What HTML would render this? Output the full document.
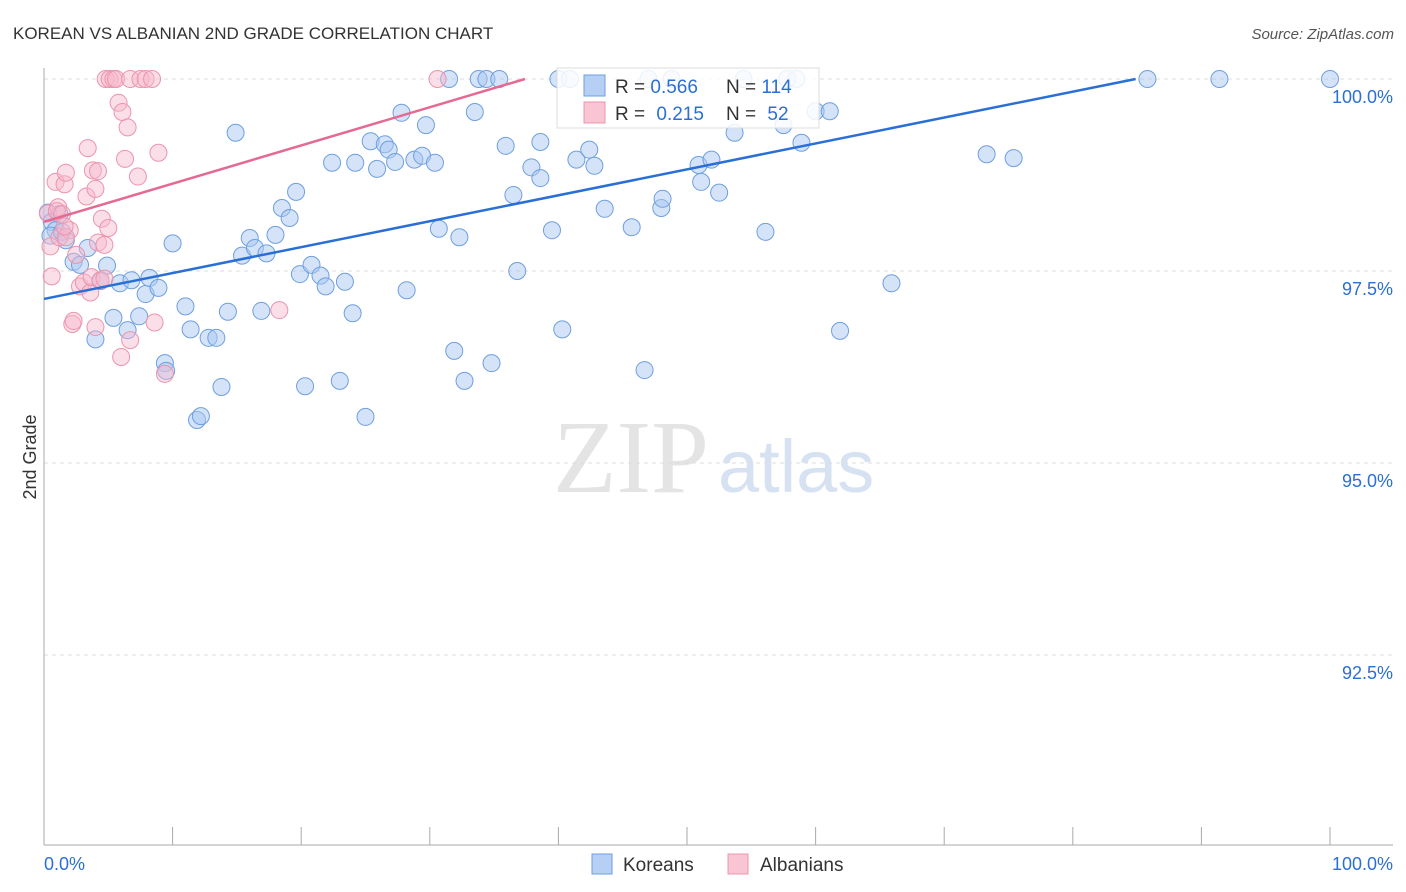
<!DOCTYPE html>
<html><head><meta charset="utf-8"><style>
body{margin:0;background:#fff;font-family:"Liberation Sans",sans-serif;}
#wrap{position:relative;width:1406px;height:892px;overflow:hidden;}
</style></head><body>
<div id="wrap">
<svg id="svg" width="1406" height="892" xmlns="http://www.w3.org/2000/svg">
<text x="13" y="39" font-size="17" fill="#333">KOREAN VS ALBANIAN 2ND GRADE CORRELATION CHART</text>
<text x="1394" y="39" font-size="15" fill="#555" text-anchor="end" font-style="italic">Source: ZipAtlas.com</text>
<text x="36" y="457" font-size="18" fill="#333" text-anchor="middle" transform="rotate(-90 36 457)">2nd Grade</text>
<text x="553" y="492" font-size="104" fill="#e4e4e4" font-family="Liberation Serif,serif">ZIP</text>
<text x="718" y="492" font-size="74" fill="#d6e2f2">atlas</text>
<g id="grid"></g><g id="axes"></g><g id="pts"></g><g id="lines"></g>
<g>
<rect x="557" y="68" width="262" height="60" fill="#fff" fill-opacity="0.85" stroke="#ddd"/>
<rect x="584" y="75" width="21" height="21" fill="#b5cff5" stroke="#6e9fe0"/>
<rect x="584" y="102" width="21" height="21" fill="#f9c4d3" stroke="#ec94ad"/>
<text x="615" y="93" font-size="19" fill="#333">R = <tspan fill="#2a6fd6">0.566</tspan></text>
<text x="726" y="93" font-size="19" fill="#333">N = <tspan fill="#2a6fd6">114</tspan></text>
<text x="615" y="120" font-size="19" fill="#333">R = <tspan fill="#2a6fd6" dx="6">0.215</tspan></text>
<text x="726" y="120" font-size="19" fill="#333">N = <tspan fill="#2a6fd6" dx="6">52</tspan></text>
</g>
<g>
<rect x="592" y="854" width="20" height="20" fill="#b5cff5" stroke="#6e9fe0"/>
<text x="623" y="871" font-size="19" fill="#333">Koreans</text>
<rect x="728" y="854" width="20" height="20" fill="#f9c4d3" stroke="#ec94ad"/>
<text x="760" y="871" font-size="19" fill="#333">Albanians</text>
</g>
</svg>
</div>
<script>
const yTicks=[100,97.5,95,92.5];
const yTickLabels=["100.0%","97.5%","95.0%","92.5%"];
const xTickLabels=["0.0%","100.0%"];
const koreanX=[0.3,0.6,0.9,1.2,0.5,1.4,1.7,2.3,2.8,3.4,4.0,4.4,4.9,5.4,5.9,6.5,6.8,7.4,7.9,8.2,8.9,9.4,9.5,10.0,11.0,11.4,11.9,12.2,12.8,13.4,13.8,14.3,14.9,15.4,16.0,16.4,16.9,17.3,18.0,18.5,19.1,19.6,19.9,20.3,20.8,21.5,21.9,22.4,23.0,23.4,24.0,24.2,25.0,25.4,25.9,26.5,26.8,27.3,27.8,28.2,28.8,29.4,29.7,30.4,30.7,31.5,31.9,32.3,32.7,33.5,33.8,34.4,34.8,35.4,35.9,36.5,36.8,37.9,38.6,38.6,39.5,40.0,40.3,40.9,41.4,42.4,42.8,43.6,45.7,46.7,47.0,48.0,48.1,48.8,50.9,51.1,51.9,52.5,53.7,54.4,56.1,57.5,57.8,58.5,58.9,60.0,61.1,61.9,65.9,73.3,75.4,85.8,91.4,100.0];
const koreanY=[98.26,98.14,98.03,98.24,97.96,98.01,97.90,97.62,97.58,97.80,96.61,97.37,97.57,96.89,97.34,96.73,97.38,96.91,97.20,97.41,97.28,96.30,96.20,97.86,97.04,96.74,95.56,95.61,96.63,96.63,95.99,96.97,99.30,97.70,97.93,97.80,96.98,97.73,97.97,98.32,98.19,98.53,97.46,96.00,97.58,97.44,97.30,98.91,96.07,97.36,96.95,98.91,95.60,99.19,98.83,99.15,99.08,98.92,99.56,97.25,98.95,99.00,99.40,98.91,98.05,100.0,96.46,97.94,96.07,99.57,100.0,100.0,96.30,100.0,99.13,98.49,97.50,98.85,98.71,99.18,98.03,100.0,96.74,100.0,98.95,99.08,98.87,98.31,98.07,96.21,100.0,98.32,98.44,100.0,98.88,98.66,98.95,98.52,99.30,100.0,98.01,99.40,100.0,100.0,99.17,99.58,99.58,96.72,97.34,99.02,98.97,100.0,100.0,100.0];
const albanianX=[0.3,0.5,0.6,0.9,1.1,1.2,1.6,1.7,2.0,2.2,2.3,2.5,2.8,3.1,3.3,3.4,3.6,3.7,3.8,4.0,4.0,4.2,4.2,4.4,4.5,4.7,4.8,5.1,5.0,5.4,5.6,5.8,6.0,6.1,6.3,6.5,6.7,6.7,7.3,7.5,7.9,8.4,8.6,8.9,9.4,18.3,30.6,1.0,1.4,1.7,1.6,4.7];
const albanianY=[98.25,97.82,97.43,98.66,98.33,97.94,98.63,98.78,98.03,96.81,96.85,97.71,97.30,97.35,98.47,99.10,97.22,97.42,98.81,98.57,96.77,97.87,98.80,97.38,98.18,97.40,100.0,100.0,98.06,100.0,100.0,99.69,96.38,99.57,98.96,99.37,96.60,100.0,98.73,100.0,100.0,100.0,96.83,99.04,96.16,96.99,100.0,98.28,98.24,97.94,98.08,97.84];
const blueLine=[97.136,100.51];
const pinkLine=[98.14,100.0];
const pinkEndX=37.4;
const NS="http://www.w3.org/2000/svg";
const L=44,R=1330,B=845;
function sx(v){return L+(R-L)*v/100;}
function sy(v){return 79+(100-v)*192/2.5;}
function mk(t,a,p){const e=document.createElementNS(NS,t);for(const k in a)e.setAttribute(k,a[k]);p.appendChild(e);return e;}
const grid=document.getElementById('grid'),axes=document.getElementById('axes'),pts=document.getElementById('pts'),lines=document.getElementById('lines');
yTicks.forEach((t,i)=>{
 const g=mk('line',{x1:L,x2:1393,y1:sy(t),y2:sy(t),stroke:'#ddd','stroke-dasharray':'4,4'},grid);
 
 
 const tx=mk('text',{x:1393,y:sy(t)+24,'font-size':18,fill:'#2a6fd6','text-anchor':'end'},axes);
 tx.textContent=yTickLabels[i];
 
 
});
const ya=mk('line',{x1:L,x2:L,y1:68,y2:B,stroke:'#aaa'},axes);


const xa=mk('line',{x1:L,x2:1393,y1:B,y2:B,stroke:'#aaa'},axes);


for(let i=0;i<=10;i++){const x=L+i*128.6;const tk=mk('line',{x1:x,x2:x,y1:B-18,y2:B,stroke:'#aaa'},axes);
 
 }
[[0,'start',44],[100,'end',1393]].forEach((d,i)=>{const t=mk('text',{x:d[2],y:870,'font-size':18,fill:'#2a6fd6','text-anchor':d[1]},axes);t.textContent=xTickLabels[i];
 
 });
koreanX.forEach((x,i)=>{const c=mk('circle',{cx:sx(x),cy:sy(koreanY[i]),r:8.5,fill:'#a9c8f2','fill-opacity':0.5,stroke:'#6e9fe0','stroke-width':1},pts);
 
 });
albanianX.forEach((x,i)=>{const c=mk('circle',{cx:sx(x),cy:sy(albanianY[i]),r:8.5,fill:'#f7b9cb','fill-opacity':0.45,stroke:'#ec94ad','stroke-width':1},pts);
 
 });
const bEnd=(100-blueLine[0])/(blueLine[1]-blueLine[0])*100;
const bl=mk('line',{x1:sx(0),y1:sy(blueLine[0]),x2:sx(bEnd),y2:sy(100),stroke:'#2a6fd6','stroke-width':2.5},lines);


const pl=mk('line',{x1:sx(0),y1:sy(pinkLine[0]),x2:sx(pinkEndX),y2:sy(pinkLine[1]),stroke:'#e56a92','stroke-width':2.5},lines);


</script>
</body></html>
